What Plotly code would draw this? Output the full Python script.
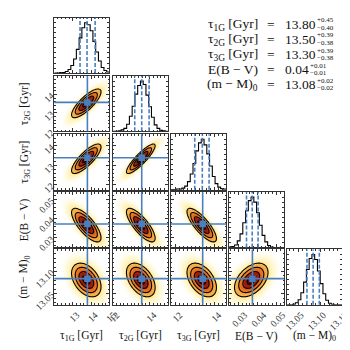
import numpy as np
import plotly.graph_objects as go

# ---------------- data ----------------
labels = ["τ<sub>1G</sub> [Gyr]", "τ<sub>2G</sub> [Gyr]", "τ<sub>3G</sub> [Gyr]",
          "E(B − V)", "(m − M)<sub>0</sub>"]
ranges = [[12.0, 15.0], [12.0, 15.0], [11.75, 14.6], [0.025, 0.054], [13.025, 13.15]]
truths = [13.80, 13.57, 13.39, 0.0373, 13.084]
centers = [13.74, 13.52, 13.34, 0.0367, 13.081]
sig2d = [0.40, 0.39, 0.38, 0.0044, 0.019]
corr_pairs = [(1, 0), (2, 0), (2, 1), (3, 0), (3, 1), (3, 2), (4, 0), (4, 1), (4, 2), (4, 3)]
corr_vals = [0.80, 0.80, 0.88, -0.75, -0.78, -0.80, -0.40, -0.45, -0.45, 0.45]
quantiles = [[13.40, 13.78, 14.22], [13.19, 13.57, 13.97], [12.98, 13.37, 13.72],
             [0.0342, 0.0372, 0.0403], [13.070, 13.084, 13.098]]
hist_tau1 = [0.00, 0.00, 0.01, 0.01, 0.03, 0.07, 0.15, 0.28, 0.47, 0.70,
             0.90, 1.00, 0.96, 0.84, 0.63, 0.42, 0.24, 0.11, 0.05, 0.02]
hist_tau2 = [0.00, 0.00, 0.01, 0.03, 0.06, 0.14, 0.30, 0.50, 0.74, 0.91,
             1.00, 0.93, 0.72, 0.49, 0.28, 0.13, 0.06, 0.02, 0.01, 0.00]
hist_tau3 = [0.00, 0.00, 0.01, 0.01, 0.03, 0.07, 0.16, 0.31, 0.52, 0.77,
             0.93, 1.00, 0.89, 0.71, 0.47, 0.26, 0.12, 0.05, 0.02, 0.01]
hist_ebv = [0.01, 0.02, 0.05, 0.13, 0.27, 0.49, 0.73, 0.93, 1.00, 0.90,
            0.69, 0.44, 0.24, 0.11, 0.04, 0.01, 0.00, 0.00, 0.00, 0.00]
hist_mm = [0.00, 0.00, 0.01, 0.04, 0.10, 0.24, 0.45, 0.70, 0.92, 1.00,
           0.90, 0.67, 0.42, 0.22, 0.09, 0.03, 0.01, 0.00, 0.00, 0.00]
hists = [hist_tau1, hist_tau2, hist_tau3, hist_ebv, hist_mm]

xtickvals = [[13, 14, 15], [12, 14], [12, 14], [0.03, 0.04, 0.05], [13.05, 13.10, 13.15]]
xticktext = [["13", "14", "15"], ["12", "14"], ["12", "14"], ["0.03", "0.04", "0.05"],
             ["13.05", "13.10", "13.15"]]
ytickvals = [None, [12, 13, 14], [12, 13, 14], [0.03, 0.04, 0.05], [13.05, 13.10]]
yticktext = [None, ["12", "13", "14"], ["12", "13", "14"], ["0.03", "0.04", "0.05"],
             ["13.05", "13.10"]]
minor_dt = [0.2, 0.2, 0.2, 0.002, 0.01]

res_names = ["τ<sub>1G</sub> [Gyr]", "τ<sub>2G</sub> [Gyr]", "τ<sub>3G</sub> [Gyr]",
             "E(B − V)", "(m − M)<sub>0</sub>"]
res_vals = ["13.80", "13.50", "13.30", "0.04", "13.08"]
res_plus = ["+0.45", "+0.39", "+0.39", "+0.01", "+0.02"]
res_minus = ["−0.40", "−0.38", "−0.38", "−0.01", "−0.02"]

# ---------------- layout geometry (pixels) ----------------
S = 350.0
col_left = [43, 104, 164.5, 225, 285.5]
row_top = [10, 70, 130, 189.5, 248.5]
W, H = 57.5, 57
BLUE = "#4a7fbd"
SERIF = "Liberation Serif, DejaVu Serif, serif"

corr = {p: v for p, v in zip(corr_pairs, corr_vals)}

# colour scale on Mahalanobis radius r (0..RM)
RM = 3.5
cs_pts = [(0.0, "#4a0606"), (0.5, "#660b08"), (0.5, "#8a160b"), (1.0, "#a82410"),
          (1.0, "#dc5a1b"), (1.5, "#ec842a"), (1.5, "#f5a13a"), (2.0, "#fab84c"),
          (2.0, "#ffeb9c"), (2.5, "#fff6c8"), (3.0, "#fffcec"), (3.5, "#ffffff")]
colorscale = [[r / RM, c] for r, c in cs_pts]

fig = go.Figure()
layout = dict(width=350, height=350, margin=dict(l=0, r=0, t=0, b=0),
              paper_bgcolor="white", plot_bgcolor="white", showlegend=False,
              font=dict(family=SERIF, color="#222"))
shapes = []
annotations = []

k = 0
for i in range(5):
    for j in range(i + 1):
        k += 1
        xa = "x" if k == 1 else f"x{k}"
        ya = "y" if k == 1 else f"y{k}"
        xkey = "xaxis" if k == 1 else f"xaxis{k}"
        ykey = "yaxis" if k == 1 else f"yaxis{k}"
        L = col_left[j]
        T = row_top[i]
        xdom = [L / S, (L + W) / S]
        ydom = [1 - (T + H) / S, 1 - T / S]
        bottom = (i == 4)
        left = (j == 0 and i > 0)
        common = dict(showline=True, linecolor="#333", linewidth=1, mirror="allticks",
                      ticks="inside", ticklen=3, tickcolor="#333", showgrid=False,
                      zeroline=False, tickfont=dict(family=SERIF, size=9.5, color="#333"))
        xaxis = dict(common, domain=xdom, anchor=ya, range=ranges[j],
                     tickvals=xtickvals[j], ticktext=xticktext[j],
                     showticklabels=bottom, tickangle=-45,
                     minor=dict(ticks="inside", ticklen=1.5, dtick=minor_dt[j],
                                tick0=0, tickcolor="#333", showgrid=False))
        if bottom:
            xaxis["ticklabelshift"] = [4, 4, 4, 6, 3][j]
        if i == j:
            yaxis = dict(common, domain=ydom, anchor=xa, range=[0, 1.1 * max(hists[j])],
                         dtick=0.1, tick0=0, ticklen=2, showticklabels=False)
        else:
            yaxis = dict(common, domain=ydom, anchor=xa, range=ranges[i],
                         tickvals=ytickvals[i], ticktext=yticktext[i],
                         showticklabels=left, tickangle=-45,
                         minor=dict(ticks="inside", ticklen=1.5, dtick=minor_dt[i],
                                    tick0=0, tickcolor="#333", showgrid=False))
        layout[xkey] = xaxis
        layout[ykey] = yaxis

        if i == j:
            lo, hi = ranges[j]
            edges = np.linspace(lo, hi, len(hists[j]) + 1)
            hx = [edges[0]] + list(edges[:-1]) + [edges[-1]]
            hy = [0] + list(hists[j]) + [0]
            fig.add_trace(go.Scatter(x=hx, y=hy, mode="lines", line_shape="hv",
                                     line=dict(color="black", width=1.1),
                                     xaxis=xa, yaxis=ya, hoverinfo="skip"))
            for q in quantiles[j]:
                shapes.append(dict(type="line", xref=xa, yref=f"{ya} domain",
                                   x0=q, x1=q, y0=0, y1=1,
                                   line=dict(color=BLUE, width=1.6, dash="4px,2px")))
        else:
            xs = np.linspace(ranges[j][0], ranges[j][1], 100)
            ys = np.linspace(ranges[i][0], ranges[i][1], 100)
            X, Y = np.meshgrid(xs, ys)
            rho = corr[(i, j)]
            u = (X - centers[j]) / sig2d[j]
            v = (Y - centers[i]) / sig2d[i]
            r = np.sqrt((u * u - 2 * rho * u * v + v * v) / (1 - rho * rho))
            r = np.minimum(r, RM)
            fig.add_trace(go.Heatmap(x=xs, y=ys, z=r, zmin=0, zmax=RM,
                                     colorscale=colorscale, showscale=False,
                                     zsmooth="best", xaxis=xa, yaxis=ya,
                                     hoverinfo="skip"))
            fig.add_trace(go.Contour(x=xs, y=ys, z=r, showscale=False,
                                     contours=dict(start=0.5, end=2.0, size=0.5,
                                                   coloring="lines"),
                                     colorscale=[[0, "black"], [1, "black"]],
                                     line=dict(width=1.1, smoothing=1),
                                     xaxis=xa, yaxis=ya, hoverinfo="skip"))
            shapes.append(dict(type="line", xref=xa, yref=f"{ya} domain",
                               x0=truths[j], x1=truths[j], y0=0, y1=1,
                               line=dict(color=BLUE, width=1.6)))
            shapes.append(dict(type="line", xref=f"{xa} domain", yref=ya,
                               x0=0, x1=1, y0=truths[i], y1=truths[i],
                               line=dict(color=BLUE, width=1.6)))
            fig.add_trace(go.Scatter(x=[truths[j]], y=[truths[i]], mode="markers",
                                     marker=dict(symbol="square", size=6.5, color=BLUE),
                                     xaxis=xa, yaxis=ya, hoverinfo="skip"))

# axis titles
for j in range(5):
    annotations.append(dict(text=labels[j], xref="paper", yref="paper",
                            x=(col_left[j] + W / 2) / S, y=1 - 338 / S,
                            showarrow=False, xanchor="center", yanchor="middle",
                            font=dict(family=SERIF, size=11.5, color="#111")))
for i in range(1, 5):
    annotations.append(dict(text=labels[i], xref="paper", yref="paper",
                            x=12 / S, y=1 - (row_top[i] + H / 2) / S, textangle=-90,
                            showarrow=False, xanchor="center", yanchor="middle",
                            font=dict(family=SERIF, size=11.5, color="#111")))

# result text block
FS = 13.5
SFS = 7
row_y = [16.5, 32, 47.5, 63, 78.5]
for n in range(5):
    yc = 1 - row_y[n] / S
    annotations.append(dict(text=res_names[n], xref="paper", yref="paper", x=257 / S, y=yc,
                            xanchor="right", yanchor="middle", showarrow=False,
                            font=dict(family=SERIF, size=FS, color="#111")))
    annotations.append(dict(text="=", xref="paper", yref="paper", x=269 / S, y=yc,
                            xanchor="center", yanchor="middle", showarrow=False,
                            font=dict(family=SERIF, size=FS, color="#111")))
    annotations.append(dict(text=res_vals[n], xref="paper", yref="paper", x=281 / S, y=yc,
                            xanchor="left", yanchor="middle", showarrow=False,
                            font=dict(family=SERIF, size=FS, color="#111")))
    val = res_vals[n]
    wv = 0.5 * FS * sum(ch.isdigit() for ch in val) + 0.25 * FS * val.count(".")
    xs_ = (281 + wv + 4) / S
    annotations.append(dict(text=res_plus[n], xref="paper", yref="paper",
                            x=xs_, y=1 - (row_y[n] - 3.7) / S,
                            xanchor="left", yanchor="middle", showarrow=False,
                            borderpad=0,
                            font=dict(family=SERIF, size=SFS, color="#111")))
    annotations.append(dict(text=res_minus[n], xref="paper", yref="paper",
                            x=xs_, y=1 - (row_y[n] + 4.0) / S,
                            xanchor="left", yanchor="middle", showarrow=False,
                            borderpad=0,
                            font=dict(family=SERIF, size=SFS, color="#111")))

layout["shapes"] = shapes
layout["annotations"] = annotations
fig.update_layout(**layout)
fig.write_html("out.html")
